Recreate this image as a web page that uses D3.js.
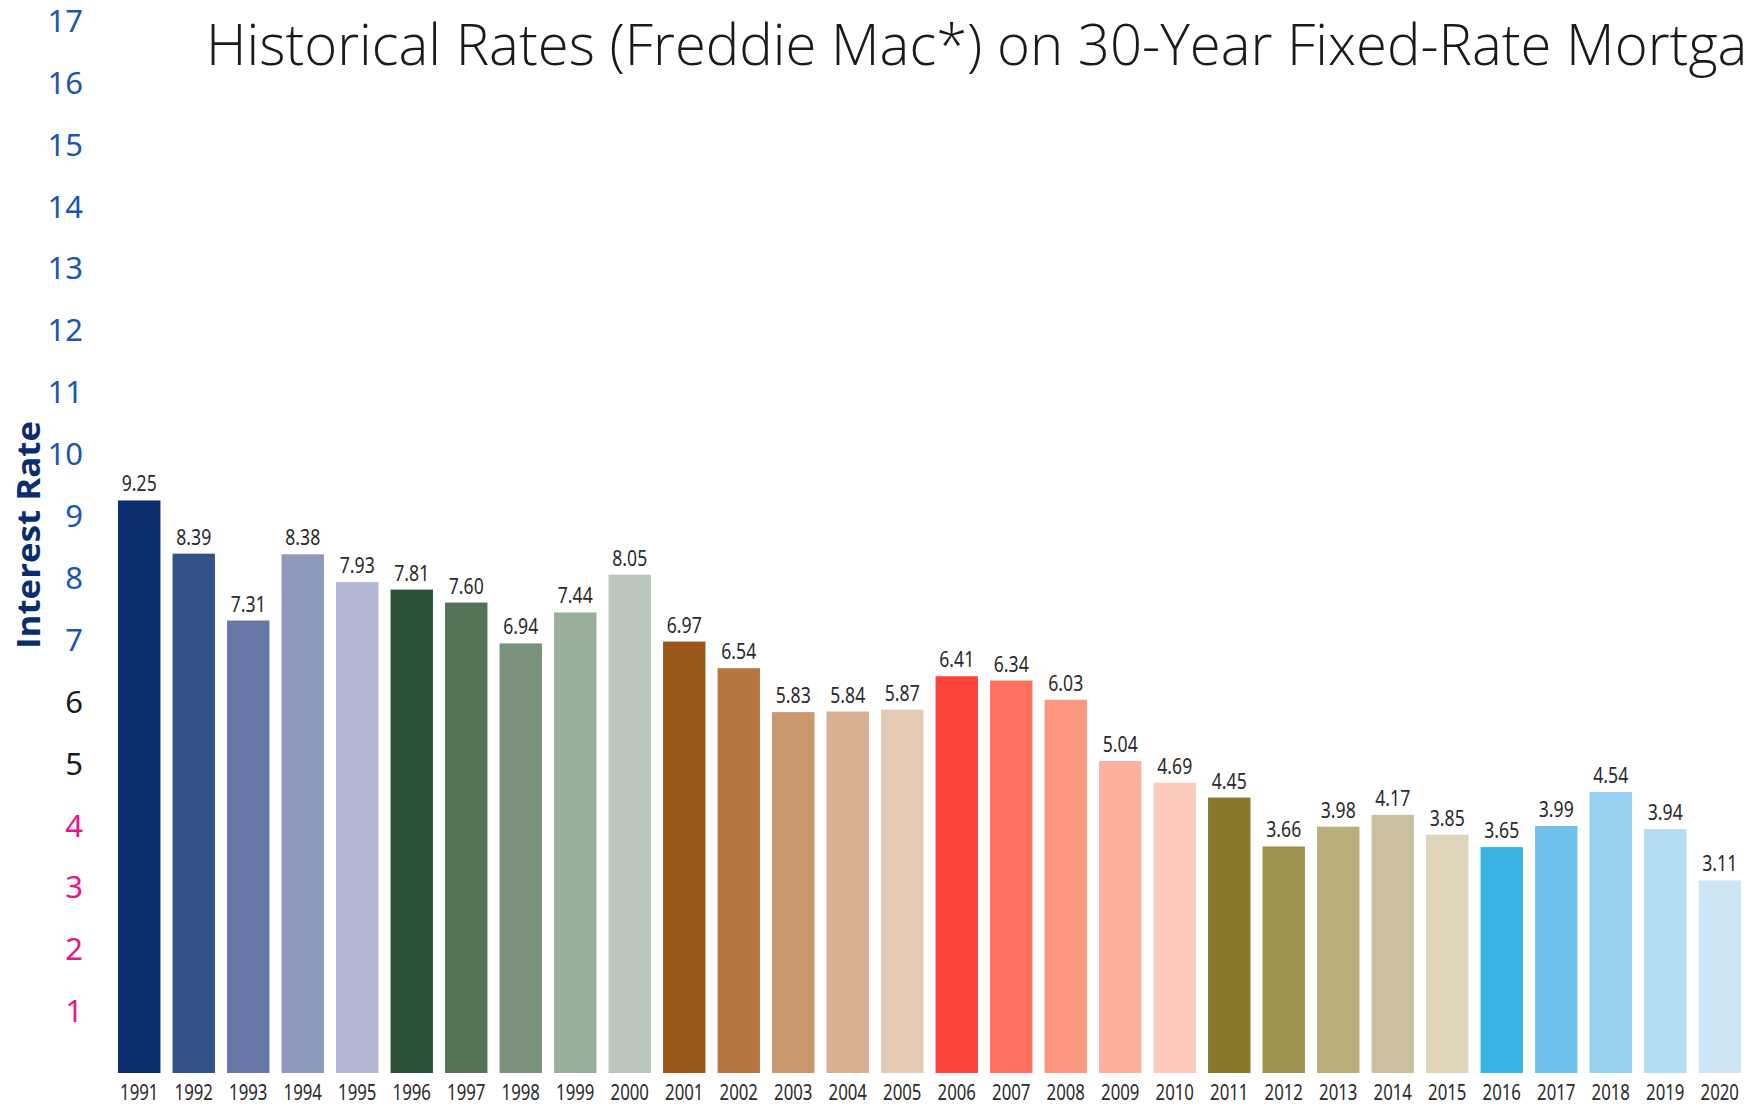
<!DOCTYPE html>
<html>
<head>
  <meta charset="utf-8">
  <script src="https://d3js.org/d3.v7.min.js"></script>
  <style>
    body { margin: 0; background: #fff; }
  </style>
</head>
<body>
<script>
  // data
  var years = ["1991","1992","1993","1994","1995","1996","1997","1998","1999","2000",
               "2001","2002","2003","2004","2005","2006","2007","2008","2009","2010",
               "2011","2012","2013","2014","2015","2016","2017","2018","2019","2020"];
  var rates = [9.25, 8.39, 7.31, 8.38, 7.93, 7.81, 7.60, 6.94, 7.44, 8.05,
               6.97, 6.54, 5.83, 5.84, 5.87, 6.41, 6.34, 6.03, 5.04, 4.69,
               4.45, 3.66, 3.98, 4.17, 3.85, 3.65, 3.99, 4.54, 3.94, 3.11];
  var barColors = ["#0a2d6e","#345388","#6878a6","#8e99bd","#b3b8d4",
                   "#2b5136","#527358","#7a917c","#9aae9c","#bac5bb",
                   "#9b5819","#b47740","#c9986f","#d9b092","#e5cab4",
                   "#fd443a","#fe7160","#fe9782","#feb09f","#fecabd",
                   "#88782a","#a09250","#baae7c","#cbc09d","#ddd4ba",
                   "#38b4e5","#6ec1ea","#98d0ef","#b4dcf3","#cde5f5"];
  var yTicks = [1,2,3,4,5,6,7,8,9,10,11,12,13,14,15,16,17];
  var tickColor = function(v) { return v >= 7 ? "#1a57b0" : (v >= 5 ? "#1a1a1a" : "#e8158a"); };

  var data = years.map(function(y, i) { return {year: y, rate: rates[i], color: barColors[i]}; });

  var W = 1748, H = 1107;
  var svg = d3.select("body").append("svg")
      .attr("width", W)
      .attr("height", H);

  var x = d3.scaleBand()
      .domain(years)
      .range([112, 1747])
      .paddingInner(0.222)
      .paddingOuter(0.111);

  var y = d3.scaleLinear()
      .domain([0, 17])
      .range([1073, 20.7]);

  // bars
  svg.selectAll("rect.bar")
      .data(data)
    .enter().append("rect")
      .attr("class", "bar")
      .attr("x", function(d) { return x(d.year); })
      .attr("width", x.bandwidth())
      .attr("y", function(d) { return y(d.rate); })
      .attr("height", function(d) { return y(0) - y(d.rate); })
      .attr("fill", function(d) { return d.color; });

  // value labels (condensed look via horizontal scale)
  svg.selectAll("text.val")
      .data(data)
    .enter().append("text")
      .attr("class", "val")
      .attr("transform", function(d) {
        return "translate(" + (x(d.year) + x.bandwidth() / 2) + "," + (y(d.rate) - 9) + ") scale(0.8,1)";
      })
      .attr("text-anchor", "middle")
      .attr("font-family", "'Noto Sans', sans-serif")
      .attr("font-size", 22)
      .attr("fill", "#2a2a2a")
      .text(function(d) { return d.rate.toFixed(2); });

  // x axis year labels
  svg.selectAll("text.year")
      .data(data)
    .enter().append("text")
      .attr("class", "year")
      .attr("transform", function(d) {
        return "translate(" + (x(d.year) + x.bandwidth() / 2) + ",1100) scale(0.8,1)";
      })
      .attr("text-anchor", "middle")
      .attr("font-family", "'Noto Sans', sans-serif")
      .attr("font-size", 21)
      .attr("fill", "#2a2a2a")
      .text(function(d) { return d.year; });

  // y axis tick labels
  svg.selectAll("text.ytick")
      .data(yTicks)
    .enter().append("text")
      .attr("class", "ytick")
      .attr("x", 83)
      .attr("y", function(d) { return y(d); })
      .attr("dy", "0.36em")
      .attr("text-anchor", "end")
      .attr("font-family", "'Noto Sans', sans-serif")
      .attr("font-size", 31)
      .attr("fill", tickColor)
      .text(function(d) { return d; });

  // y axis title
  svg.append("text")
      .attr("transform", "translate(40,535) rotate(-90)")
      .attr("text-anchor", "middle")
      .attr("font-family", "'Open Sans', sans-serif")
      .attr("font-weight", "bold")
      .attr("font-size", 33)
      .attr("textLength", 228)
      .attr("lengthAdjust", "spacingAndGlyphs")
      .attr("fill", "#0a2d6e")
      .text("Interest Rate");

  // title, runs off the right edge like the original
  var title = svg.append("text")
      .attr("x", 0)
      .attr("y", 0)
      .attr("font-family", "'Open Sans', sans-serif")
      .attr("font-weight", 300)
      .attr("font-size", 58)
      .attr("fill", "#1a1a1a")
      .text("Historical Rates (Freddie Mac*) on 30-Year Fixed-Rate Mortgages");
  var prefix = "Historical Rates (Freddie Mac*) on 30-Year Fixed-Rate Mortga";
  var wPrefix = title.node().getSubStringLength(0, prefix.length);
  var sx = (1748 - 206) / wPrefix;
  title.attr("transform", "translate(206,65) scale(" + sx + ",1)");
</script>
</body>
</html>
